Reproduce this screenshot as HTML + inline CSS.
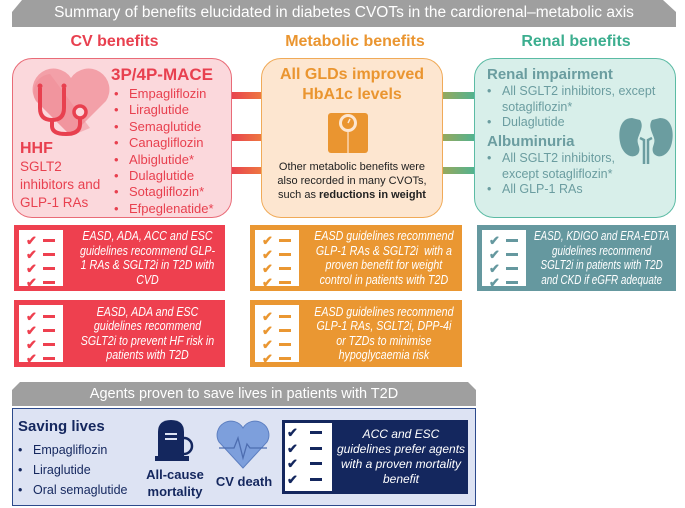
<!DOCTYPE html>
<html><head><meta charset="utf-8"><style>
*{margin:0;padding:0;box-sizing:border-box}
body{width:685px;height:508px;background:#fff;font-family:"Liberation Sans",sans-serif;position:relative;overflow:hidden}
.a{position:absolute}
.hd{font-weight:bold;font-size:16px;text-align:center}
ul{list-style:none}
li{position:relative;padding-left:18px}
li:before{content:"•";position:absolute;left:3px}
.g{position:absolute;color:#fff;font-style:italic;font-size:13px;line-height:14.5px;text-align:center;display:flex;align-items:center;justify-content:center;white-space:nowrap;transform:scaleX(.82);transform-origin:left center}
.g2{position:absolute;color:#fff;font-style:italic;font-size:12px;line-height:15px;text-align:center;display:flex;align-items:center;justify-content:center}
.ck{position:absolute;background:#fff;top:6px;bottom:6px;left:6px;width:45px}
.ck span{position:absolute;left:7px;font-size:13px;font-weight:bold;line-height:13px}
.ck i{position:absolute;left:24px;width:12px;height:3px}
.cn{position:absolute;height:7px}
</style></head><body>
<svg class="a" style="left:0;top:0" width="685" height="30"><polygon points="22,0 663,0 676,12 676,27 12,27 12,12" fill="#9f9f9f"/></svg>
<div class="a" style="left:12px;top:4px;width:664px;text-align:center;color:#fff;font-size:15.5px">Summary of benefits elucidated in diabetes CVOTs in the cardiorenal–metabolic axis</div>
<div class="a hd" style="left:12px;top:33px;width:205px;color:#e8404f">CV benefits</div>
<div class="a hd" style="left:255px;top:33px;width:200px;color:#ea9530">Metabolic benefits</div>
<div class="a hd" style="left:476px;top:33px;width:200px;color:#3cae8f">Renal benefits</div>

<div class="cn" style="left:230px;top:92px;width:33px;background:linear-gradient(90deg,#e8404f,#ee7a40)"></div>
<div class="cn" style="left:230px;top:134px;width:33px;background:linear-gradient(90deg,#e8404f,#ee7a40)"></div>
<div class="cn" style="left:230px;top:167px;width:33px;background:linear-gradient(90deg,#e8404f,#ee7a40)"></div>
<div class="cn" style="left:441px;top:92px;width:35px;background:linear-gradient(90deg,#9aa85a,#4fb392)"></div>
<div class="cn" style="left:441px;top:134px;width:35px;background:linear-gradient(90deg,#9aa85a,#4fb392)"></div>
<div class="cn" style="left:441px;top:167px;width:35px;background:linear-gradient(90deg,#9aa85a,#4fb392)"></div>

<div class="a" style="left:12px;top:58px;width:220px;height:160px;background:#fbd8dc;border:1.5px solid #e96b77;border-radius:20px"></div>
<svg class="a" style="left:30px;top:68px" width="82" height="70"><path d="M41,68 L6,33 A18,18 0 0 1 41,10 A18,18 0 0 1 76,33 Z" fill="#f3a0a8"/><path d="M41,68 L6,33 A18,18 0 0 1 20,6 L60,60Z" fill="#ef8a94" opacity=".5"/>
<path d="M10,20 L10,40 Q10,52 22,52 Q34,52 34,40 L34,20 M22,52 L22,58 Q22,66 36,66 Q50,66 50,56 L50,50" stroke="#e8404f" stroke-width="4" fill="none"/><circle cx="50" cy="44" r="6" stroke="#e8404f" stroke-width="3.5" fill="#fbd8dc"/><circle cx="10" cy="18" r="2.5" fill="#e8404f"/><circle cx="34" cy="18" r="2.5" fill="#e8404f"/></svg>
<div class="a" style="left:111px;top:65px;font-weight:bold;font-size:17px;color:#e8404f">3P/4P-MACE</div>
<ul class="a" style="left:111px;top:86px;font-size:13px;line-height:16.4px;color:#e8404f">
<li>Empagliflozin</li><li>Liraglutide</li><li>Semaglutide</li><li>Canagliflozin</li><li>Albiglutide*</li><li>Dulaglutide</li><li>Sotagliflozin*</li><li>Efpeglenatide*</li></ul>
<div class="a" style="left:20px;top:140px;font-weight:bold;font-size:16px;color:#e8404f">HHF</div>
<div class="a" style="left:20px;top:158px;font-size:13.5px;line-height:18px;color:#e8404f">SGLT2<br>inhibitors and<br>GLP-1 RAs</div>

<div class="a" style="left:261px;top:58px;width:182px;height:160px;background:#fde6d0;border:1.5px solid #f0aa58;border-radius:20px"></div>
<div class="a" style="left:261px;top:65px;width:182px;text-align:center;font-weight:bold;font-size:16px;line-height:20px;color:#ea9530">All GLDs improved<br>HbA1c levels</div>
<svg class="a" style="left:327px;top:112px" width="42" height="42"><rect x="1" y="1" width="40" height="40" rx="3" fill="#ea9530"/><line x1="21" y1="20" x2="21" y2="41" stroke="#fde6d0" stroke-width="1.2"/><circle cx="21" cy="11" r="9" fill="#fde6d0"/><circle cx="21" cy="11" r="6" fill="#ea9530"/><line x1="21" y1="11" x2="23" y2="7" stroke="#fde6d0" stroke-width="1.5"/></svg>
<div class="a" style="left:261px;top:160px;width:182px;text-align:center;font-size:11px;line-height:14px;color:#222">Other metabolic benefits were<br>also recorded in many CVOTs,<br>such as <b>reductions in weight</b></div>

<div class="a" style="left:474px;top:58px;width:202px;height:160px;background:#d8efea;border:1.5px solid #5bbba4;border-radius:20px"></div>
<div class="a" style="left:487px;top:66px;font-weight:bold;font-size:15px;color:#6b9da0">Renal impairment</div>
<ul class="a" style="left:484px;top:84px;font-size:12.5px;line-height:15.5px;color:#6b9da0"><li>All SGLT2 inhibitors, except<br>sotagliflozin*</li><li>Dulaglutide</li></ul>
<div class="a" style="left:487px;top:133px;font-weight:bold;font-size:15px;color:#6b9da0">Albuminuria</div>
<ul class="a" style="left:484px;top:151px;font-size:12.5px;line-height:15.5px;color:#6b9da0"><li>All SGLT2 inhibitors,<br>except sotagliflozin*</li><li>All GLP-1 RAs</li></ul>
<svg class="a" style="left:618px;top:116px" width="56" height="50"><path d="M14,2 C2,2 0,16 2,26 C4,38 14,44 20,38 C24,32 18,28 20,22 C22,16 26,10 22,4 Z" fill="#6b9da0"/><path d="M42,2 C54,2 56,16 54,26 C52,38 42,44 36,38 C32,32 38,28 36,22 C34,16 30,10 34,4 Z" fill="#6b9da0"/><path d="M22,22 L26,24 L26,48 M34,22 L30,24 L30,48" stroke="#6b9da0" stroke-width="2.5" fill="none"/></svg>

<div class="a" style="left:14px;top:225px;width:211px;height:66px;background:#ee404f"><div class="ck" style="top:5px;bottom:5px;left:5px;width:44px"><span style="top:4px;color:#ee404f">✔</span><i style="top:9px;background:#ee404f"></i><span style="top:18px;color:#ee404f">✔</span><i style="top:23px;background:#ee404f"></i><span style="top:32px;color:#ee404f">✔</span><i style="top:37px;background:#ee404f"></i><span style="top:46px;color:#ee404f">✔</span><i style="top:51px;background:#ee404f"></i></div></div>
<div class="g" style="left:70px;top:225px;width:189px;height:66px">EASD, ADA, ACC and ESC<br>guidelines recommend GLP-<br>1 RAs &amp; SGLT2i in T2D with<br>CVD</div>
<div class="a" style="left:14px;top:300px;width:211px;height:67px;background:#ee404f"><div class="ck" style="top:5px;bottom:5px;left:5px;width:44px"><span style="top:5px;color:#ee404f">✔</span><i style="top:10px;background:#ee404f"></i><span style="top:19px;color:#ee404f">✔</span><i style="top:24px;background:#ee404f"></i><span style="top:33px;color:#ee404f">✔</span><i style="top:38px;background:#ee404f"></i><span style="top:47px;color:#ee404f">✔</span><i style="top:52px;background:#ee404f"></i></div></div>
<div class="g" style="left:70px;top:300px;width:189px;height:67px">EASD, ADA and ESC<br>guidelines recommend<br>SGLT2i to prevent HF risk in<br>patients with T2D</div>

<div class="a" style="left:250px;top:225px;width:212px;height:66px;background:#ea9732"><div class="ck" style="top:5px;bottom:5px;left:5px;width:44px"><span style="top:4px;color:#ea9732">✔</span><i style="top:9px;background:#ea9732"></i><span style="top:18px;color:#ea9732">✔</span><i style="top:23px;background:#ea9732"></i><span style="top:32px;color:#ea9732">✔</span><i style="top:37px;background:#ea9732"></i><span style="top:46px;color:#ea9732">✔</span><i style="top:51px;background:#ea9732"></i></div></div>
<div class="g" style="left:306px;top:225px;width:190px;height:66px">EASD guidelines recommend<br>GLP-1 RAs &amp; SGLT2i&nbsp; with a<br>proven benefit for weight<br>control in patients with T2D</div>
<div class="a" style="left:250px;top:300px;width:212px;height:67px;background:#ea9732"><div class="ck" style="top:5px;bottom:5px;left:5px;width:44px"><span style="top:5px;color:#ea9732">✔</span><i style="top:10px;background:#ea9732"></i><span style="top:19px;color:#ea9732">✔</span><i style="top:24px;background:#ea9732"></i><span style="top:33px;color:#ea9732">✔</span><i style="top:38px;background:#ea9732"></i><span style="top:47px;color:#ea9732">✔</span><i style="top:52px;background:#ea9732"></i></div></div>
<div class="g" style="left:306px;top:300px;width:190px;height:67px">EASD guidelines recommend<br>GLP-1 RAs, SGLT2i, DPP-4i<br>or TZDs to minimise<br>hypoglycaemia risk</div>

<div class="a" style="left:477px;top:225px;width:199px;height:66px;background:#65989f"><div class="ck" style="top:5px;bottom:5px;left:5px;width:44px"><span style="top:4px;color:#65989f">✔</span><i style="top:9px;background:#65989f"></i><span style="top:18px;color:#65989f">✔</span><i style="top:23px;background:#65989f"></i><span style="top:32px;color:#65989f">✔</span><i style="top:37px;background:#65989f"></i><span style="top:46px;color:#65989f">✔</span><i style="top:51px;background:#65989f"></i></div></div>
<div class="g" style="left:531px;top:225px;width:186px;height:66px;transform:scaleX(.76)">EASD, KDIGO and ERA-EDTA<br>guidelines recommend<br>SGLT2i in patients with T2D<br>and CKD if eGFR adequate</div>

<svg class="a" style="left:0;top:382px" width="685" height="26"><polygon points="20,0 468,0 476,8 476,24 12,24 12,8" fill="#9f9f9f"/></svg>
<div class="a" style="left:12px;top:386px;width:464px;text-align:center;color:#fff;font-size:14.5px">Agents proven to save lives in patients with T2D</div>
<div class="a" style="left:12px;top:408px;width:464px;height:98px;background:#dde3f3;border:1.5px solid #2c4a8c"></div>
<div class="a" style="left:18px;top:418px;font-weight:bold;font-size:15px;color:#14275e">Saving lives</div>
<ul class="a" style="left:15px;top:440px;font-size:12.5px;line-height:20px;color:#14275e"><li>Empagliflozin</li><li>Liraglutide</li><li>Oral semaglutide</li></ul>
<svg class="a" style="left:155px;top:418px" width="42" height="45"><path d="M3,40 L3,14 Q3,2 16,2 Q29,2 29,14 L29,40 Z" fill="#14275e"/><rect x="0" y="38" width="34" height="5" fill="#14275e"/><line x1="10" y1="16" x2="22" y2="16" stroke="#dde3f3" stroke-width="2"/><line x1="10" y1="21" x2="22" y2="21" stroke="#dde3f3" stroke-width="2"/><path d="M29,20 A8,8 0 0 1 29,36" stroke="#14275e" stroke-width="2.5" fill="none"/></svg>
<div class="a" style="left:140px;top:466px;width:70px;text-align:center;font-weight:bold;font-size:13px;line-height:17px;color:#14275e">All-cause<br>mortality</div>
<svg class="a" style="left:216px;top:420px" width="54" height="50"><path d="M27,48 L3,22 A12,12 0 0 1 27,8 A12,12 0 0 1 51,22 Z" fill="#7d9fdc" stroke="#5d7fc0" stroke-width="1"/><path d="M3,28 L18,28 L22,18 L27,38 L31,24 L34,28 L51,28" stroke="#4d6db0" stroke-width="1.3" fill="none"/></svg>
<div class="a" style="left:212px;top:474px;width:64px;text-align:center;font-weight:bold;font-size:13px;color:#14275e">CV death</div>
<div class="a" style="left:282px;top:420px;width:186px;height:74px;background:#14275e"></div>
<div class="a" style="left:285px;top:423px;width:47px;height:68px;background:#fff"></div>
<div class="a" style="left:287px;top:425px;color:#14275e;font-weight:bold;font-size:13px;line-height:15.5px">✔<br>✔<br>✔<br>✔</div>
<div class="a" style="left:310px;top:431px;width:12px;height:3px;background:#14275e"></div>
<div class="a" style="left:310px;top:447px;width:12px;height:3px;background:#14275e"></div>
<div class="a" style="left:310px;top:462px;width:12px;height:3px;background:#14275e"></div>
<div class="a" style="left:310px;top:478px;width:12px;height:3px;background:#14275e"></div>
<div class="g2" style="left:334px;top:420px;width:134px;height:74px">ACC and ESC guidelines prefer agents with a proven mortality benefit</div>
</body></html>
